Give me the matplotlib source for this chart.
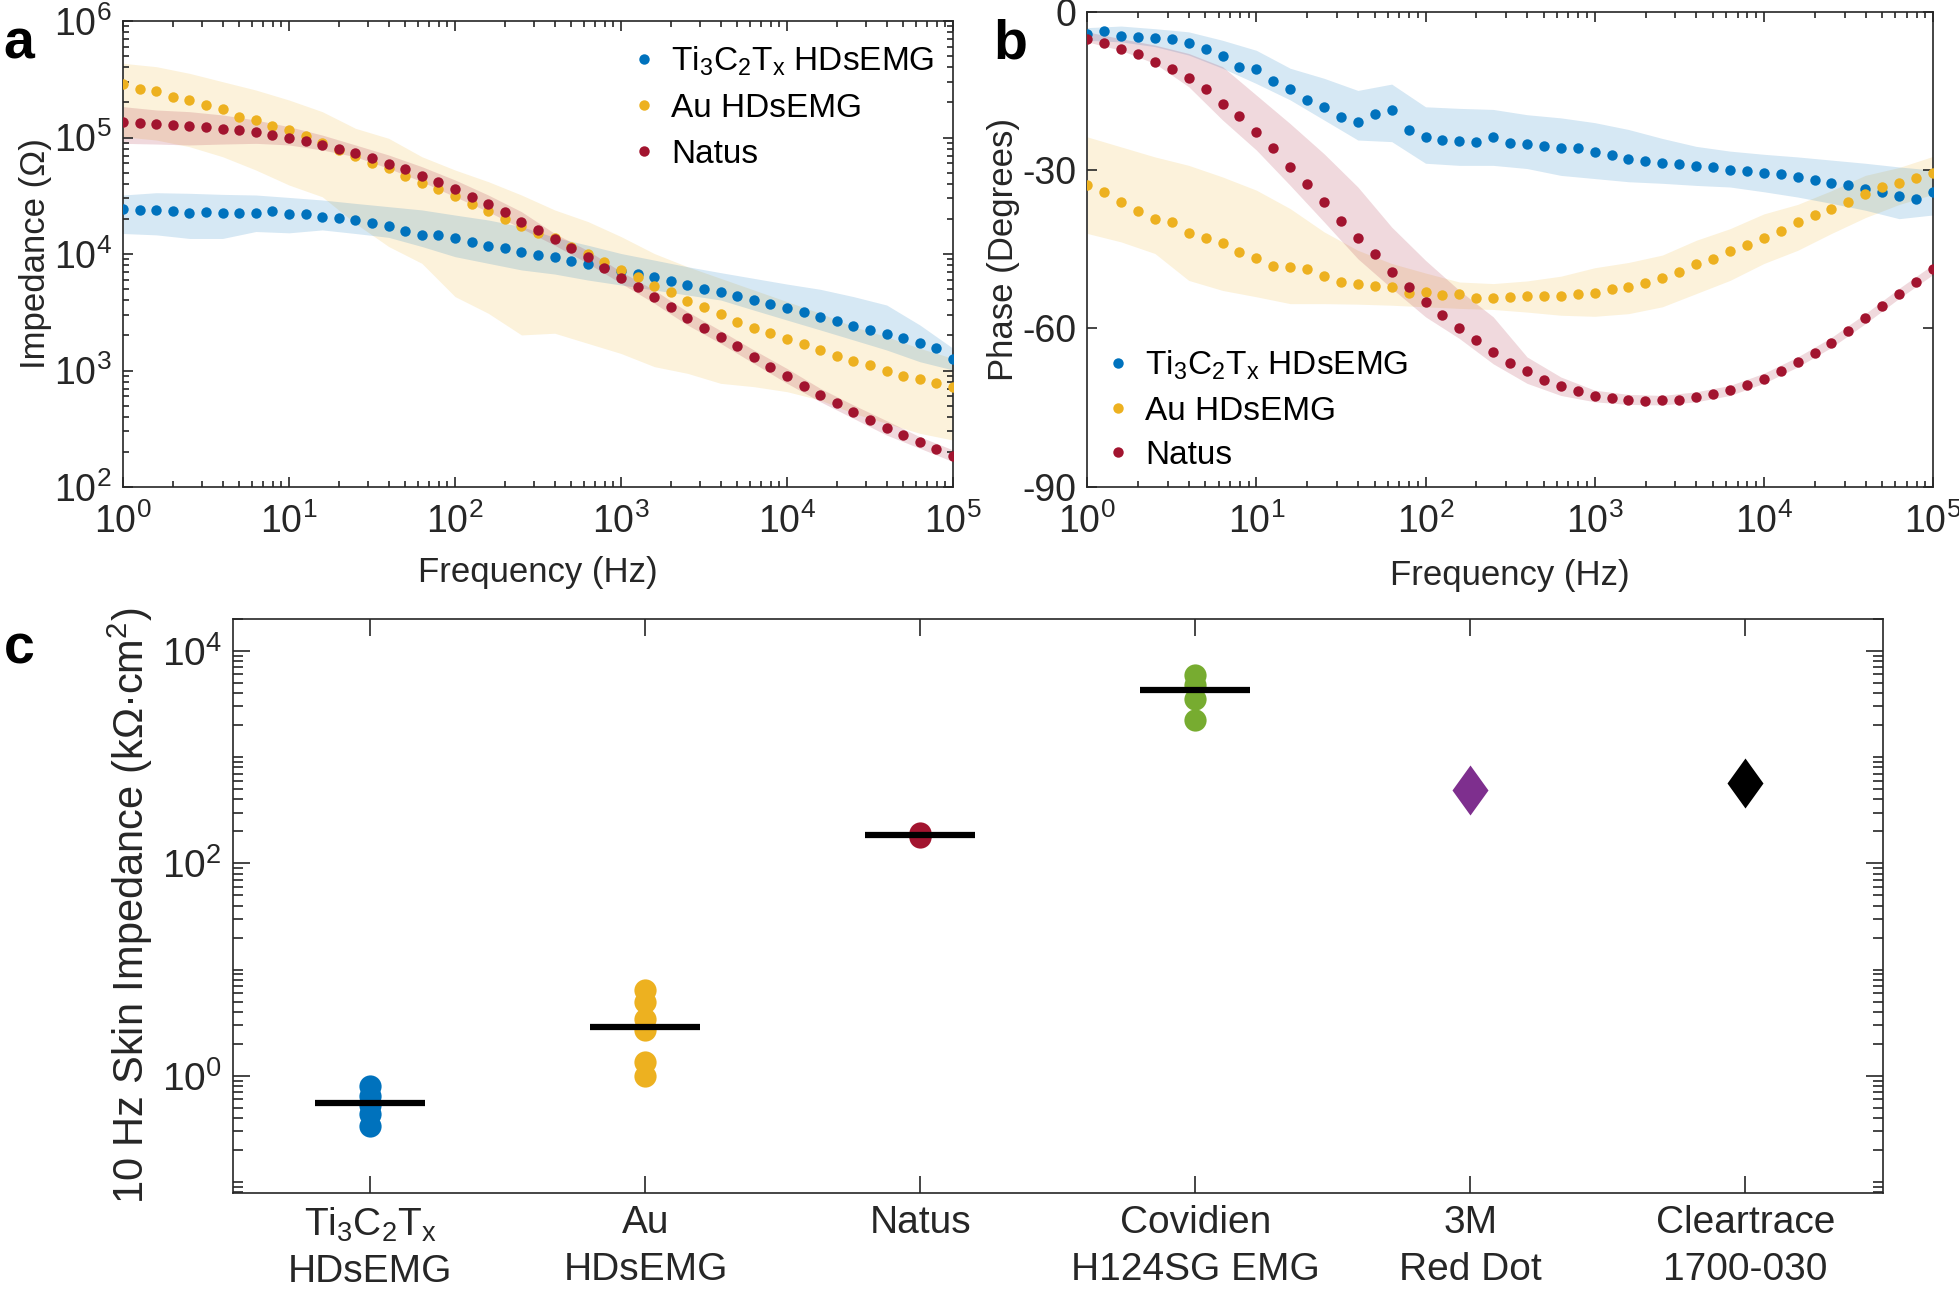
import numpy as np
import matplotlib
matplotlib.use('Agg')
import matplotlib.pyplot as plt
from matplotlib.ticker import LogLocator, FixedLocator, NullFormatter, LogFormatterMathtext

plt.rcParams['font.family'] = ['Liberation Sans', 'DejaVu Sans']
plt.rcParams['mathtext.fontset'] = 'custom'
plt.rcParams['mathtext.rm'] = 'Liberation Sans'
plt.rcParams['mathtext.it'] = 'Liberation Sans'
plt.rcParams['mathtext.default'] = 'regular'
plt.rcParams['axes.unicode_minus'] = False

# MATLAB default colours
c_ti, c_au, c_nat = '#0072BD', '#EDB120', '#A2142F'
c_cov, c_3m = '#77AC30', '#7E2F8E'
txt = '#262626'

# ---- sweep frequencies (10 points / decade) ----
freq = np.logspace(0, 5, 51)
freq_band = freq[::2]

# ---- panel a : impedance magnitude (Ohm) ----
z_ti = [24200, 23900, 23900, 23400, 22600, 22800, 22300, 22600, 22600, 23400,
        21900, 21900, 20900, 20200, 19600, 18300, 17400, 15800, 14600, 14600,
        13600, 12600, 11800, 11200, 10500, 9860, 9350, 8710, 8150, 7780,
        7190, 6730, 6310, 5860, 5420, 5010, 4690, 4360, 4030, 3720,
        3420, 3160, 2900, 2680, 2430, 2230, 2060, 1890, 1730, 1550, 1250]
z_au = [287700, 262400, 250600, 224300, 208500, 188900, 174600, 151000, 141300, 126400,
        116000, 103000, 90300, 78200, 69400, 60000, 54300, 47000, 40900, 36100,
        31500, 26700, 23400, 20000, 17400, 15300, 13600, 11600, 10000, 8590,
        7290, 6310, 5310, 4750, 3970, 3480, 3050, 2610, 2300, 2110,
        1880, 1680, 1500, 1340, 1210, 1110, 990, 903, 846, 787, 727]
z_nat = [136800, 134000, 130600, 128900, 125600, 123100, 119100, 115900, 110700, 105000,
         99700, 94000, 86300, 79700, 73100, 66200, 59200, 53300, 47000, 41200,
         35900, 31000, 26700, 22800, 19000, 16100, 13400, 11200, 9360, 7540,
         6270, 5180, 4310, 3530, 2810, 2330, 1930, 1620, 1300, 1080,
         897, 741, 617, 530, 443, 376, 323, 279, 242, 210, 186]

z_ti_hi = [32100, 33600, 33200, 32500, 32100, 30600, 29100, 27200, 25500, 23900, 21600, 19600, 17200,
           13900, 11900, 10100, 8870, 7780, 6920, 6180, 5520, 4980, 4310, 3650, 2460, 1550]
z_ti_lo = [15000, 14600, 13600, 13600, 15600, 15200, 16100, 15000, 13900, 11600, 9490, 8320, 7300,
           6730, 5980, 5420, 4910, 4450, 4030, 3300, 2710, 2230, 1830, 1500, 1190, 1010]
z_au_hi = [433500, 405600, 355500, 301300, 255600, 209800, 166700, 119900, 98400, 68400, 52600, 41800, 32100,
           23900, 19000, 14100, 10100, 7780, 6180, 4910, 3900, 3100, 2380, 1950, 1550, 1270]
z_au_lo = [101600, 95200, 83400, 68400, 52600, 39100, 31000, 18300, 11600, 8320, 4310, 3100, 2020,
           2090, 1710, 1400, 1080, 946, 776, 727, 658, 558, 429, 352, 289, 253]
z_nat_hi = [184100, 172300, 166700, 156100, 141300, 123900, 105000, 86300, 70800, 56200, 43200, 32100, 23100,
            15000, 10700, 7050, 4910, 3200, 2200, 1500, 1040, 703, 506, 371, 270, 208]
z_nat_lo = [89100, 87900, 86300, 87900, 89100, 86300, 78200, 68400, 54300, 41800, 31000, 23100, 16600,
            11900, 8320, 5600, 3780, 2460, 1710, 1150, 776, 540, 388, 279, 215, 165]

# ---- panel b : phase (degrees) ----
p_ti = [-4.2, -3.7, -4.6, -4.7, -4.9, -5.2, -5.9, -7.0, -8.3, -10.4,
        -10.8, -13.1, -14.7, -16.7, -18.1, -19.9, -20.9, -19.3, -18.6, -22.4,
        -23.8, -24.2, -24.4, -24.6, -23.8, -24.8, -25.1, -25.5, -25.9, -25.9,
        -26.5, -27.2, -27.8, -28.2, -28.6, -28.9, -29.2, -29.5, -29.9, -30.1,
        -30.5, -30.8, -31.3, -31.9, -32.4, -32.9, -33.5, -34.1, -34.9, -35.5, -34.1]
p_au = [-32.9, -34.2, -36.0, -37.7, -39.2, -39.8, -42.0, -42.8, -43.9, -45.6,
        -46.6, -48.1, -48.3, -48.8, -50.0, -51.2, -51.6, -52.0, -52.2, -53.2,
        -53.1, -53.7, -53.4, -54.2, -54.2, -54.1, -53.9, -53.9, -53.8, -53.4,
        -53.2, -52.5, -52.2, -51.4, -50.4, -49.3, -47.8, -46.9, -45.3, -44.2,
        -42.8, -41.5, -39.9, -38.5, -37.3, -36.0, -34.6, -33.2, -32.5, -31.5, -30.5]
p_nat = [-5.1, -5.9, -7.0, -8.0, -9.5, -10.9, -12.6, -14.7, -17.4, -19.8,
         -22.7, -25.8, -29.4, -32.7, -36.0, -39.7, -42.8, -45.9, -49.3, -52.1,
         -55.0, -57.4, -60.0, -62.2, -64.4, -66.5, -68.0, -69.7, -70.9, -71.8,
         -72.8, -73.2, -73.5, -73.8, -73.6, -73.5, -73.0, -72.5, -71.7, -70.8,
         -69.5, -68.0, -66.3, -64.6, -62.7, -60.5, -58.1, -55.8, -53.4, -51.2, -48.8]

p_ti_hi = [-3.0, -2.7, -3.2, -3.8, -5.4, -7.3, -10.7, -12.6, -14.9, -13.7, -18.0, -18.3, -18.5,
           -19.5, -20.1, -21.0, -22.3, -24.0, -25.5, -26.4, -27.0, -27.5, -28.1, -28.7, -29.4, -30.0]
p_ti_lo = [-5.4, -5.7, -6.6, -8.2, -10.7, -13.6, -16.7, -20.5, -24.3, -24.6, -28.7, -29.1, -29.1,
           -29.7, -31.0, -31.6, -32.2, -32.5, -32.9, -33.2, -34.1, -35.1, -36.3, -37.6, -39.2, -38.5]
p_au_hi = [-23.7, -25.6, -27.5, -29.1, -31.3, -33.8, -37.3, -41.7, -45.2, -47.7, -49.5, -51.2, -51.5,
           -51.0, -50.1, -48.5, -47.5, -46.1, -43.3, -41.1, -38.3, -36.5, -33.9, -31.0, -29.5, -27.4]
p_au_lo = [-42.0, -43.6, -45.8, -50.9, -52.8, -54.0, -55.3, -55.3, -55.4, -55.6, -55.9, -56.2, -56.4,
           -56.9, -57.5, -57.7, -57.2, -55.9, -53.4, -50.9, -47.7, -45.2, -42.0, -39.0, -36.5, -34.6]
p_nat_hi = [-3.8, -5.1, -6.3, -7.9, -10.4, -15.8, -21.2, -26.9, -33.2, -40.8, -47.1, -52.8, -57.8,
            -65.4, -69.2, -71.7, -72.5, -72.7, -72.0, -70.8, -68.5, -65.4, -61.7, -57.2, -52.4, -47.9]
p_nat_lo = [-5.7, -7.3, -9.8, -14.2, -20.5, -26.2, -32.9, -39.8, -46.8, -52.4, -57.8, -61.9, -66.7,
            -70.4, -72.7, -73.9, -74.4, -74.5, -73.9, -72.7, -70.4, -67.3, -63.6, -59.1, -54.3, -49.8]

# ---- panel c : 10 Hz skin impedance (kOhm cm^2) ----
c_labels = ['Ti$_3$C$_2$T$_x$\nHDsEMG', 'Au\nHDsEMG', 'Natus',
            'Covidien\nH124SG EMG', '3M\nRed Dot', 'Cleartrace\n1700-030']
skin_ti = [0.81, 0.65, 0.53, 0.44, 0.34]
skin_au = [6.4, 5.0, 3.4, 2.7, 1.35, 1.0]
skin_nat = [178, 186, 195]
skin_cov = [5900, 4800, 3500, 2240]
skin_3m = [490]
skin_clear = [570]
skin_median = [0.55, 2.86, 185, 4300]

labels_ab = ['Ti$_3$C$_2$T$_x$ HDsEMG', 'Au HDsEMG', 'Natus']

fig = plt.figure(figsize=(19.59, 12.97), dpi=100)


def style(ax, size=27, major=7, minor=4, pad=12):
    for s in ax.spines.values():
        s.set_linewidth(1.2)
        s.set_color(txt)
    ax.tick_params(which='both', direction='in', top=True, right=True,
                   colors=txt, labelsize=size, width=1.2)
    ax.tick_params(which='major', length=major, pad=8)
    ax.tick_params(which='minor', length=minor)
    ax.tick_params(axis='x', which='major', pad=pad)


# ---------------- a ----------------
ax_a = fig.add_axes([0.0628, 0.6245, 0.4237, 0.3593])
ax_a.set_xscale('log')
ax_a.set_yscale('log')
for lo, hi, col in [(z_au_lo, z_au_hi, c_au), (z_ti_lo, z_ti_hi, c_ti), (z_nat_lo, z_nat_hi, c_nat)]:
    ax_a.fill_between(freq_band, lo, hi, color=col, alpha=0.16, lw=0, zorder=1)
for vals, col, lab in [(z_ti, c_ti, labels_ab[0]), (z_au, c_au, labels_ab[1]), (z_nat, c_nat, labels_ab[2])]:
    ax_a.plot(freq, vals, 'o', ms=7.5, color=col, mec='none', label=lab, zorder=3)
ax_a.set_xlim(1, 1e5)
ax_a.set_ylim(1e2, 1e6)
ax_a.xaxis.set_major_locator(LogLocator(base=10, numticks=10))
ax_a.yaxis.set_major_locator(LogLocator(base=10, numticks=10))
style(ax_a)
ax_a.set_xlabel('Frequency (Hz)', fontsize=25, color=txt)
ax_a.set_ylabel('Impedance (Ω)', fontsize=25, color=txt)
ax_a.xaxis.set_label_coords(0.5, -0.148)
ax_a.yaxis.set_label_coords(-0.085, 0.5)
ax_a.legend(loc='upper left', bbox_to_anchor=(0.612, 0.95), frameon=False, fontsize=24,
            handlelength=0.8, handletextpad=0.4, labelspacing=0.45, borderpad=0, borderaxespad=0)

# ---------------- b ----------------
ax_b = fig.add_axes([0.555, 0.6247, 0.4317, 0.3662])
ax_b.set_xscale('log')
for lo, hi, col in [(p_au_lo, p_au_hi, c_au), (p_ti_lo, p_ti_hi, c_ti), (p_nat_lo, p_nat_hi, c_nat)]:
    ax_b.fill_between(freq_band, lo, hi, color=col, alpha=0.16, lw=0, zorder=1)
for vals, col, lab in [(p_ti, c_ti, labels_ab[0]), (p_au, c_au, labels_ab[1]), (p_nat, c_nat, labels_ab[2])]:
    ax_b.plot(freq, vals, 'o', ms=7.5, color=col, mec='none', label=lab, zorder=3)
ax_b.set_xlim(1, 1e5)
ax_b.set_ylim(-90, 0)
ax_b.set_yticks([-90, -60, -30, 0])
ax_b.xaxis.set_major_locator(LogLocator(base=10, numticks=10))
style(ax_b)
ax_b.set_xlabel('Frequency (Hz)', fontsize=25, color=txt)
ax_b.set_ylabel('Phase (Degrees)', fontsize=25, color=txt)
ax_b.xaxis.set_label_coords(0.5, -0.152)
ax_b.yaxis.set_label_coords(-0.080, 0.5)
ax_b.legend(loc='upper left', bbox_to_anchor=(0.021, 0.29), frameon=False, fontsize=24,
            handlelength=0.8, handletextpad=0.4, labelspacing=0.4, borderpad=0, borderaxespad=0)

# ---------------- c ----------------
ax_c = fig.add_axes([0.1189, 0.0802, 0.8423, 0.4426])
ax_c.set_yscale('log')
groups = [(skin_ti, c_ti), (skin_au, c_au), (skin_nat, c_nat), (skin_cov, c_cov)]
for i, (vals, col) in enumerate(groups, start=1):
    ax_c.plot([i] * len(vals), vals, 'o', ms=16, color=col, mec='none', zorder=2)
    ax_c.hlines(skin_median[i - 1], i - 0.2, i + 0.2, color='k', lw=4.5, zorder=3)
diamond = [(0, 1), (0.72, 0), (0, -1), (-0.72, 0), (0, 1)]
ax_c.plot([5] * len(skin_3m), skin_3m, marker=diamond, ms=36, ls='none', color=c_3m, mec='none')
ax_c.plot([6] * len(skin_clear), skin_clear, marker=diamond, ms=36, ls='none', color='k', mec='none')
ax_c.set_xlim(0.5, 6.5)
ax_c.set_ylim(0.079, 2e4)
ax_c.set_xticks(range(1, 7))
ax_c.set_xticklabels(c_labels, linespacing=1.38)
ax_c.yaxis.set_major_locator(FixedLocator([1, 100, 1e4]))
ax_c.yaxis.set_major_formatter(LogFormatterMathtext())
ax_c.yaxis.set_minor_locator(LogLocator(base=10, subs=np.arange(1, 10), numticks=50))
ax_c.yaxis.set_minor_formatter(NullFormatter())
style(ax_c, size=28, major=12, minor=7, pad=9)
ax_c.set_ylabel('10 Hz Skin Impedance (kΩ·cm$^2$)', fontsize=30, color=txt)
ax_c.yaxis.set_label_coords(-0.047, 0.5)

# panel letters
for x, y, s in [(0.0097, 0.966, 'a'), (0.5156, 0.966, 'b'), (0.0097, 0.4996, 'c')]:
    fig.text(x, y, s, fontsize=40, fontweight='bold', ha='center', va='center', color='k')

fig.savefig('out.png', dpi=100)
